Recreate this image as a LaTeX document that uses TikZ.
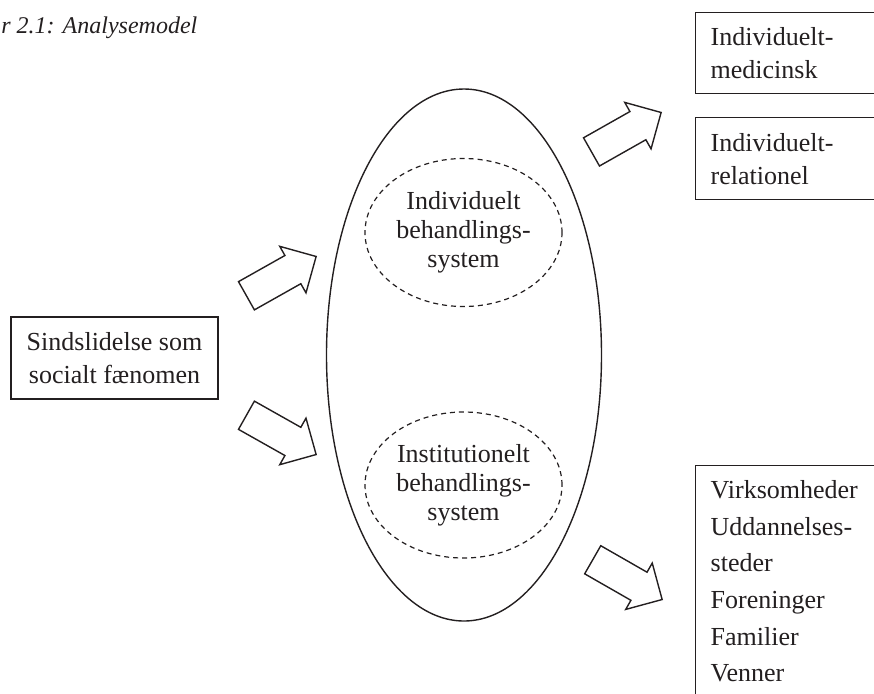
\documentclass[tikz,border=0pt]{standalone}
\usepackage{fontspec}
\setmainfont{Liberation Serif}
\usetikzlibrary{positioning, shapes.geometric, shapes.arrows}
\definecolor{ink}{HTML}{231F20}

\begin{document}
\begin{tikzpicture}[
    x=0.5pt, y=-0.5pt,
    every node/.style={text=ink},
    box/.style={draw=ink, line width=0.7pt, inner ysep=0pt, font=\fontsize{13}{16.5}\selectfont},
    sysell/.style={ellipse, draw=ink, line width=0.7pt, inner sep=0pt, minimum width=137.5pt, minimum height=266pt},
    subell/.style={ellipse, draw=ink, line width=0.6pt, dash pattern=on 2.5pt off 2pt, inner sep=0pt, minimum width=98.5pt, minimum height=74pt, align=center, font=\fontsize{13}{14.5}\selectfont},
    blockarrow/.style={single arrow, draw=ink, line width=0.7pt, inner xsep=0pt, inner ysep=7.75pt, single arrow head extend=5.25pt, minimum height=40pt, anchor=tip},
]
    \useasboundingbox (0,0) rectangle (874,693);
    \clip (0,0) rectangle (874,693);

    % caption
    \node[font=\fontsize{12}{14}\selectfont\itshape, anchor=base west, inner sep=0pt] (title) at (1,33) {r 2.1: Analysemodel};

    % phenomenon
    \node[box, minimum width=103.5pt, minimum height=41pt, align=center] (phen) at (114.5,358) {Sindslidelse som\\socialt fænomen};

    % treatment system
    \node[sysell] (sys) at (464,355) {};
    \node[subell] (indiv) at (463.5,232.5) {Individuelt\\behandlings-\\system};
    \node[subell, minimum height=73pt] (inst) at (463.5,485) {Institutionelt\\behandlings-\\system};

    % block arrows
    \node[blockarrow, rotate=29.4] (a1) at (317,256) {};
    \node[blockarrow, rotate=-29.4] (a2) at (317,455) {};
    \node[blockarrow, rotate=29.5] (a3) at (662,112) {};
    \node[blockarrow, rotate=-29.8] (a4) at (663,600) {};

    % outcomes
    \node[box, anchor=north west, minimum height=40.5pt, text width=95pt, inner xsep=7.5pt, align=left] (med) at (695,12) {Individuelt-\\medicinsk};
    \node[box, anchor=north west, minimum height=41pt, text width=95pt, inner xsep=7.5pt, align=left] (rel) at (695,117) {Individuelt-\\relationel};
    \node[box, anchor=north west, text width=95pt, inner xsep=7.5pt, inner ysep=7.5pt, align=left, font=\fontsize{13}{18.3}\selectfont, text depth=110pt] (arenas) at (695,465) {Virksomheder\\Uddannelses-\\steder\\Foreninger\\Familier\\Venner};
\end{tikzpicture}
\end{document}
